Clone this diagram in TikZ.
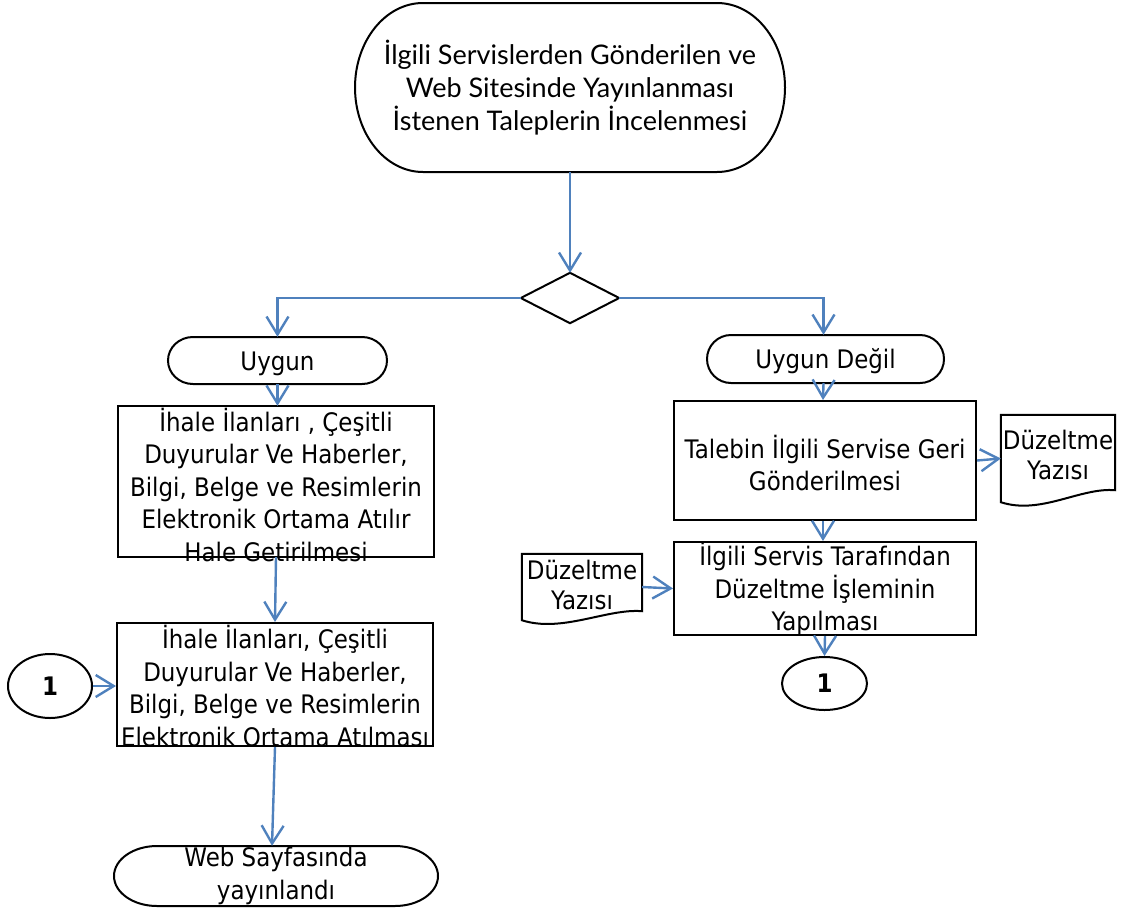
\documentclass[tikz,border=0pt]{standalone}
\usepackage{fontspec}
\usetikzlibrary{arrows.meta,shapes.geometric,calc}
\newfontfamily\tah[FakeStretch=0.9]{DejaVu Sans}
\newfontfamily\gill{Lato}
\definecolor{flowblue}{HTML}{4F81BD}
\newcommand\stadiumshape[5]{%
  \draw[shp] (#1-#3+#5,#2+#4) -- (#1+#3-#5,#2+#4)
    arc[start angle=90,end angle=-90,x radius=#5,y radius=#4]
    -- (#1-#3+#5,#2-#4)
    arc[start angle=270,end angle=90,x radius=#5,y radius=#4] -- cycle;}
\newcommand\docshape[2]{%
  \draw[shp] (#1.north west) -- (#1.north east) -- ([yshift=#2]#1.south east)
    .. controls ([xshift=-35pt,yshift=#2+3pt]#1.south east) and ([xshift=40pt,yshift=-13pt]#1.south west) .. (#1.south west) -- cycle;}
\begin{document}
\begin{tikzpicture}[x=1pt,y=1pt,
  shp/.style={draw=black,line width=2pt},
  txt/.style={font=\tah\fontsize{25.5}{32.5}\selectfont,align=center,inner sep=0pt},
  boxnode/.style={shp,inner sep=0pt},
  conn/.style={draw=flowblue,line width=2.4pt,-{Straight Barb[length=18pt,width=22pt,line width=2.4pt]}},
  circ/.style={shp,ellipse,inner sep=0pt,font=\tah\bfseries\fontsize{25.5}{28}\selectfont}]
\useasboundingbox (0,0) rectangle (1121,-913);

% top terminal
\stadiumshape{570}{-87.5}{215}{84.5}{68}
\node[inner sep=0pt,minimum width=430,minimum height=169] (start) at (570,-87.5) {};
\node[font=\gill\fontsize{27}{33}\selectfont,align=center,inner sep=0pt] (starttxt) at (570,-88)
  {İlgili Servislerden Gönderilen ve\\Web Sitesinde Yayınlanması\\İstenen Taleplerin İncelenmesi};

% decision
\node[inner sep=0pt,minimum width=98,minimum height=50] (dec) at (570,-298) {};
\draw[shp] (dec.north) -- (dec.east) -- (dec.south) -- (dec.west) -- cycle;

% left branch
\stadiumshape{277.5}{-360.5}{109.5}{23.5}{25}
\node[inner sep=0pt,minimum width=219,minimum height=47] (uyg) at (277.5,-360.5) {};
\node[txt,anchor=base] (uygtxt) at (277.5,-370) {Uygun};

\draw[shp] (118,-406) rectangle (434,-557);
\node[inner sep=0pt,minimum width=316,minimum height=151] (box1) at (276,-481.5) {};
\node[txt] (box1txt) at (276,-485)
  {İhale İlanları , Çeşitli\\Duyurular Ve Haberler,\\Bilgi, Belge ve Resimlerin\\Elektronik Ortama Atılır\\Hale Getirilmesi};

\node[boxnode,minimum width=316,minimum height=123] (box2) at (275,-684.5) {};
\node[txt] (box2txt) at (275,-686)
  {İhale İlanları, Çeşitli\\Duyurular Ve Haberler,\\Bilgi, Belge ve Resimlerin\\Elektronik Ortama Atılması};

\node[circ,minimum width=84,minimum height=64] (c1) at (50,-686) {1};

\stadiumshape{276}{-876}{162}{30}{43}
\node[txt,minimum width=324,minimum height=60] (web) at (276,-876) {Web Sayfasında\\yayınlandı};

% right branch
\stadiumshape{825.5}{-359}{118.5}{24}{24}
\node[inner sep=0pt,minimum width=237,minimum height=48] (uyd) at (825.5,-359) {};
\node[txt,anchor=base] (uydtxt) at (825.5,-368) {Uygun Değil};

\node[boxnode,minimum width=302,minimum height=119] (box3) at (825,-460.5) {};
\node[txt] (box3txt) at (825,-463) {Talebin İlgili Servise Geri\\Gönderilmesi};

\node[inner sep=0pt,minimum width=114,minimum height=87] (docR) at (1058,-458.5) {};
\docshape{docR}{12pt}
\node[txt,font=\tah\fontsize{25.5}{29.5}\selectfont] (docRtxt) at (1058,-455) {Düzeltme\\Yazısı};

\node[boxnode,minimum width=302,minimum height=93] (box4) at (825,-588.5) {};
\node[txt] (box4txt) at (825,-589) {İlgili Servis Tarafından\\Düzeltme İşleminin\\Yapılması};

\node[inner sep=0pt,minimum width=120,minimum height=66] (docL) at (582,-587) {};
\docshape{docL}{9pt}
\node[txt,font=\tah\fontsize{25.5}{29.5}\selectfont] (docLtxt) at (582,-585) {Düzeltme\\Yazısı};

\node[circ,minimum width=85,minimum height=53] (c2) at (824.5,-683.5) {1};

% connectors
\draw[conn] (start.south) -- (dec.north);
\draw[conn] (dec.west) -| (uyg.north);
\draw[conn] (dec.east) -| ([xshift=-2pt]uyd.north);
\draw[conn] (uyg.south) -- (box1.north -| uyg.south);
\draw[conn] (box1.south) -- (box2.north);
\draw[conn] (box2.south) -- ([xshift=-4pt]web.north);
\draw[conn] (c1.east) -- (c1.east -| box2.west);
\draw[conn] ([xshift=-2pt]uyd.south) -- ([xshift=-2pt]box3.north);
\draw[conn] (box3.east) -- (docR.west);
\draw[conn] ([xshift=-2pt]box3.south) -- ([xshift=-2pt]box4.north);
\draw[conn] (docL.east) -- (box4.west);
\draw[conn] (box4.south) -- (c2.north);
\end{tikzpicture}
\end{document}
